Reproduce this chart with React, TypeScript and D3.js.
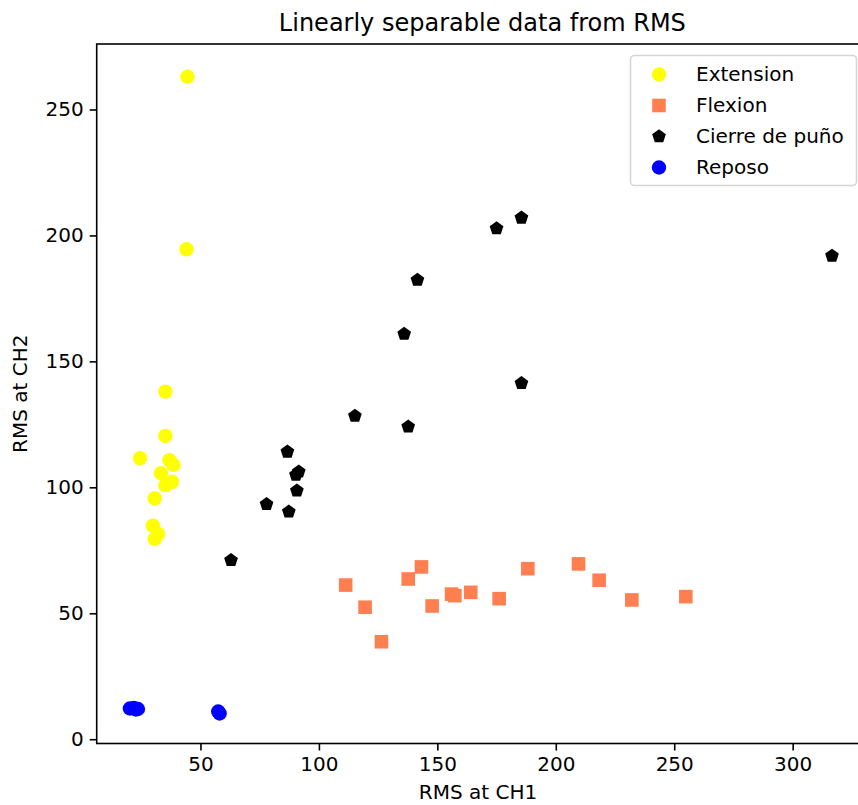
import * as d3 from "d3";
import React, { useEffect, useRef } from "react";

// [RMS CH1, RMS CH2] per sample
const extension: [number, number][] = [
  [44.5, 263.0], [44.1, 194.5], [35.2, 138.0], [35.2, 120.4], [24.5, 111.6],
  [36.9, 110.8], [38.6, 108.9], [33.3, 105.6], [38.0, 102.2], [35.2, 100.9],
  [30.7, 95.6], [29.9, 84.8], [32.1, 81.5], [30.7, 79.5],
];
const flexion: [number, number][] = [
  [111.3, 61.2], [119.5, 52.4], [126.4, 38.7], [137.7, 63.6], [143.3, 68.4],
  [147.8, 52.9], [156.0, 57.6], [157.4, 57.0], [164.1, 58.3], [176.1, 55.8],
  [188.2, 67.7], [209.6, 69.6], [218.3, 63.1], [232.1, 55.3], [254.9, 56.6],
];
const cierre: [number, number][] = [
  [62.9, 71.1], [77.9, 93.3], [87.3, 90.3], [86.7, 114.1], [90.7, 98.7],
  [90.3, 104.9], [91.5, 106.2], [115.2, 128.3], [137.7, 124.1], [136.0, 160.9],
  [141.6, 182.3], [175.0, 202.8], [185.5, 207.0], [185.5, 141.3], [316.6, 191.9],
];
const reposo: [number, number][] = [
  [20.2, 12.2], [21.9, 12.4], [23.6, 12.0], [22.7, 11.8], [57.5, 11.0], [58.1, 10.2],
];

const xTicks = [50, 100, 150, 200, 250, 300];
const yTicks = [0, 50, 100, 150, 200, 250];

const series = [
  { name: "Extension", data: extension, color: "#ffff00", shape: "circle" },
  { name: "Flexion", data: flexion, color: "#ff7f50", shape: "square" },
  { name: "Cierre de puño", data: cierre, color: "#000000", shape: "pentagon" },
  { name: "Reposo", data: reposo, color: "#0000ff", shape: "circle" },
];

const FONT = "'DejaVu Sans', sans-serif";

const markerPath = (shape: string) => {
  if (shape === "square") return "M-6.8,-6.8H6.8V6.8H-6.8Z";
  if (shape === "pentagon") {
    const r = 7.2;
    const pts = d3.range(5).map((i) => {
      const a = -Math.PI / 2 + (i * 2 * Math.PI) / 5;
      return [r * Math.cos(a), r * Math.sin(a)];
    });
    return "M" + pts.map((p) => p.join(",")).join("L") + "Z";
  }
  const r = 7.2;
  return `M${r},0A${r},${r} 0 1,1 ${-r},0A${r},${r} 0 1,1 ${r},0Z`;
};

const App = () => {
  const svgRef = useRef<SVGSVGElement>(null);

  useEffect(() => {
    const svg = d3.select(svgRef.current);
    svg.selectAll("*").remove();

    const left = 96.7;
    const right = 868;
    const top = 44;
    const bottom = 743.5;

    const x = d3.scaleLinear().domain([6.2, 331.8]).range([left, right]);
    const y = d3.scaleLinear().domain([-1.7, 276]).range([bottom, top]);

    // title
    svg
      .append("text")
      .attr("x", (left + right) / 2)
      .attr("y", 31)
      .attr("text-anchor", "middle")
      .style("font-family", FONT)
      .style("font-size", "24px")
      .text("Linearly separable data from RMS");

    // points
    series.forEach((s) => {
      svg
        .append("g")
        .selectAll("path")
        .data(s.data)
        .enter()
        .append("path")
        .attr("transform", (d) => `translate(${x(d[0])},${y(d[1])})`)
        .attr("d", markerPath(s.shape))
        .attr("fill", s.color);
    });

    // axes
    const xAxis = svg
      .append("g")
      .attr("transform", `translate(0,${bottom})`)
      .call(d3.axisBottom(x).tickValues(xTicks).tickSize(7).tickPadding(6).tickSizeOuter(0));
    const yAxis = svg
      .append("g")
      .attr("transform", `translate(${left},0)`)
      .call(d3.axisLeft(y).tickValues(yTicks).tickSize(7).tickPadding(6).tickSizeOuter(0));

    [xAxis, yAxis].forEach((ax) => {
      ax.select(".domain").remove();
      ax.selectAll("line").attr("stroke", "#000").attr("stroke-width", 1.6);
      ax.selectAll("text")
        .attr("fill", "#000")
        .style("font-family", FONT)
        .style("font-size", "20px");
    });

    // spines
    svg
      .append("rect")
      .attr("x", left)
      .attr("y", top)
      .attr("width", right - left)
      .attr("height", bottom - top)
      .attr("fill", "none")
      .attr("stroke", "#000")
      .attr("stroke-width", 1.6);

    // axis labels
    svg
      .append("text")
      .attr("x", 478)
      .attr("y", 799)
      .attr("text-anchor", "middle")
      .style("font-family", FONT)
      .style("font-size", "20px")
      .text("RMS at CH1");
    svg
      .append("text")
      .attr("transform", `translate(27,${(top + bottom) / 2}) rotate(-90)`)
      .attr("text-anchor", "middle")
      .style("font-family", FONT)
      .style("font-size", "20px")
      .text("RMS at CH2");

    // legend
    const lg = svg.append("g");
    lg.append("rect")
      .attr("x", 630.5)
      .attr("y", 55.5)
      .attr("width", 226)
      .attr("height", 130)
      .attr("rx", 4)
      .attr("fill", "#fff")
      .attr("fill-opacity", 0.8)
      .attr("stroke", "#d6d6d6")
      .attr("stroke-width", 1.6);
    series.forEach((s, i) => {
      const cy = 73.5 + i * 31;
      lg.append("path")
        .attr("transform", `translate(659,${cy + 1})`)
        .attr("d", markerPath(s.shape))
        .attr("fill", s.color);
      lg.append("text")
        .attr("x", 696)
        .attr("y", cy + 7)
        .style("font-family", FONT)
        .style("font-size", "20px")
        .attr("fill", "#000")
        .text(s.name);
    });
  }, []);

  return (
    <div style={{ position: "absolute", left: 0, top: 0 }}>
      <svg ref={svgRef} width={858} height={805} style={{ display: "block" }}></svg>
    </div>
  );
};

export default App;
